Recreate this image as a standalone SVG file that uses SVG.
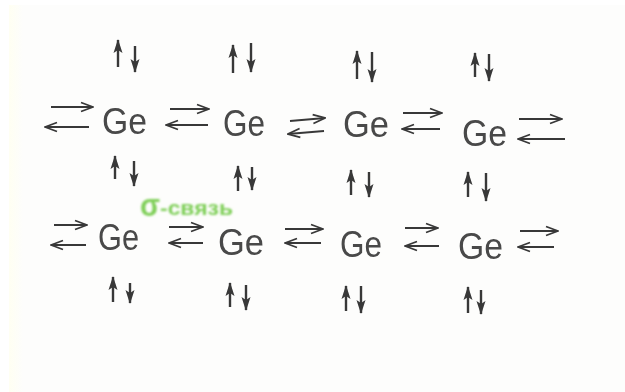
<svg xmlns="http://www.w3.org/2000/svg" width="625" height="392" viewBox="0 0 625 392">
<style>
.ge{font-family:"Liberation Sans",Arial,sans-serif;font-size:36px;fill:#484848}
.lbl{font-family:"Liberation Sans",Arial,sans-serif;font-weight:bold;fill:#7fcf58}
.b{stroke:#383838;stroke-width:2;fill:none;marker-end:url(#h)}
.v{stroke:#383838;stroke-width:2.4;fill:none;marker-end:url(#t)}
</style>
<defs>
<marker id="h" viewBox="0 0 14 12" refX="13" refY="6" markerWidth="14" markerHeight="12" markerUnits="userSpaceOnUse" orient="auto"><path d="M1 1.5L13 6L1 10.5" fill="none" stroke="#383838" stroke-width="1.8"/></marker>
<marker id="t" viewBox="0 0 14 10" refX="13" refY="5" markerWidth="14" markerHeight="10" markerUnits="userSpaceOnUse" orient="auto"><path d="M0 0.5L14 5L0 9.5L3 5Z" fill="#383838"/></marker>
<linearGradient id="bg"><stop offset="0" stop-color="#fffff2"/><stop offset="1" stop-color="#fdfdfc"/></linearGradient>
<filter id="s" x="-5%" y="-5%" width="110%" height="110%"><feGaussianBlur stdDeviation="0.7"/></filter>
<filter id="g" x="-10%" y="-20%" width="120%" height="140%"><feGaussianBlur stdDeviation="1"/></filter>
</defs>
<rect width="625" height="392" fill="#ffffff"/>
<rect x="9" y="5" width="616" height="387" fill="#fdfdfc"/>
<rect x="9" y="5" width="14" height="387" fill="url(#bg)"/>
<g filter="url(#s)">
<g id="connectors">
<path class="b" d="M51 107H93"/><path class="b" d="M89 127H45"/>
<path class="b" d="M170 109H209"/><path class="b" d="M208 125H166"/>
<path class="b" d="M290 121L325 118"/><path class="b" d="M324 131L288 134"/>
<path class="b" d="M403 113H442"/><path class="b" d="M440 129H402"/>
<path class="b" d="M519 119H562"/><path class="b" d="M565 139H518"/>
<path class="b" d="M54 225H87"/><path class="b" d="M86 245H51"/>
<path class="b" d="M169 227H203"/><path class="b" d="M203 243H169"/>
<path class="b" d="M285 229H323"/><path class="b" d="M321 243H285"/>
<path class="b" d="M405 228H438"/><path class="b" d="M439 246H405"/>
<path class="b" d="M520 231H558"/><path class="b" d="M554 247H518"/>
<path class="v" d="M118 67V40"/><path class="v" d="M135 46V72"/>
<path class="v" d="M233 73V45"/><path class="v" d="M251 43V72"/>
<path class="v" d="M357 79V51"/><path class="v" d="M372 52V82"/>
<path class="v" d="M475 77V53"/><path class="v" d="M489 54V81"/>
<path class="v" d="M115 179V156"/><path class="v" d="M134 161V186"/>
<path class="v" d="M238 191V166"/><path class="v" d="M252 167V190"/>
<path class="v" d="M351 195V170"/><path class="v" d="M369 172V197"/>
<path class="v" d="M468 197V172"/><path class="v" d="M486 173V201"/>
<path class="v" d="M113 302V277"/><path class="v" d="M130 283V303"/>
<path class="v" d="M230 307V283"/><path class="v" d="M246 285V310"/>
<path class="v" d="M346 311V286"/><path class="v" d="M361 286V313"/>
<path class="v" d="M468 313V287"/><path class="v" d="M481 290V314"/>
</g>
<g id="ge1"><text class="ge" x="102" y="134" textLength="45" lengthAdjust="spacingAndGlyphs">Ge</text></g>
<g id="ge2"><text class="ge" x="223" y="136" textLength="42" lengthAdjust="spacingAndGlyphs">Ge</text></g>
<g id="ge3"><text class="ge" x="343" y="137" textLength="46" lengthAdjust="spacingAndGlyphs">Ge</text></g>
<g id="ge4"><text class="ge" x="462" y="146" textLength="45" lengthAdjust="spacingAndGlyphs">Ge</text></g>
<g id="ge5"><text class="ge" x="98" y="250" textLength="41" lengthAdjust="spacingAndGlyphs">Ge</text></g>
<g id="ge6"><text class="ge" x="218" y="255" textLength="46" lengthAdjust="spacingAndGlyphs">Ge</text></g>
<g id="ge7"><text class="ge" x="340" y="257" textLength="42" lengthAdjust="spacingAndGlyphs">Ge</text></g>
<g id="ge8"><text class="ge" x="458" y="259" textLength="45" lengthAdjust="spacingAndGlyphs">Ge</text></g>
</g>
<g id="label" filter="url(#g)"><text class="lbl" x="140" y="216" font-size="32" textLength="20" lengthAdjust="spacingAndGlyphs">σ</text><text class="lbl" x="160" y="215" font-size="20" textLength="73" lengthAdjust="spacingAndGlyphs">-связь</text></g>
</svg>
